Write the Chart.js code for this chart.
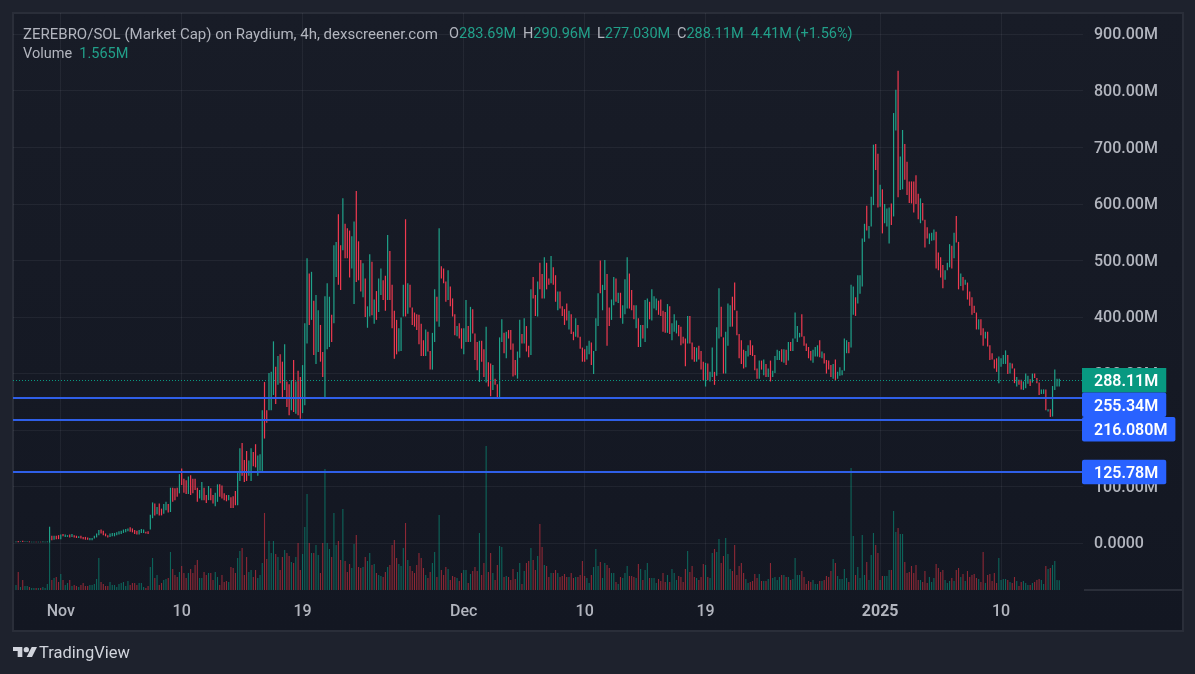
<!DOCTYPE html>
<html>
<head>
<meta charset="utf-8">
<title>ZEREBRO/SOL</title>
<script src="https://cdn.jsdelivr.net/npm/chart.js@4"></script>
<style>
html, body { margin: 0; padding: 0; width: 1195px; height: 674px; overflow: hidden; background: #1e222d; }
body { position: relative; font-family: Roboto, sans-serif; }
#pane { position: absolute; left: 12px; top: 12px; width: 1168px; height: 616px; border: 2px solid #2a2e39; background: linear-gradient(#181c27, #131722); }
#axisLine { position: absolute; left: 1084px; top: 589px; width: 98px; height: 2px; background: #2a2e39; }
canvas { position: absolute; left: 0; top: 0; }
.legend { position: absolute; font-size: 14.5px; line-height: 20px; color: #b2b5be; white-space: pre; }
.legend b { font-weight: 400; color: #22a08a; }
#logo { position: absolute; left: 13px; top: 646px; }
#brand { position: absolute; left: 39px; top: 643px; font-size: 16.5px; line-height: 20px; color: #d1d4dc; }
</style>
</head>
<body>
<div id="pane"></div>
<div id="axisLine"></div>
<canvas id="chart" width="1195" height="674"></canvas>
<div class="legend" style="left:23px;top:24px;font-size:15px">ZEREBRO/SOL (Market Cap) on Raydium, 4h, dexscreener.com</div>
<div class="legend" style="left:449px;top:24px">O<b>283.69M</b></div>
<div class="legend" style="left:523px;top:24px">H<b>290.96M</b></div>
<div class="legend" style="left:597px;top:24px">L<b>277.030M</b></div>
<div class="legend" style="left:677px;top:24px">C<b>288.11M</b></div>
<div class="legend" style="left:751px;top:24px"><b>4.41M (+1.56%)</b></div>
<div class="legend" style="left:23px;top:44px">Volume  <b>1.565M</b></div>
<svg id="logo" width="24" height="12" viewBox="0 6 36 15" fill="#d1d4dc"><path d="M14 6H0v6h7v9h7V6Z"/><circle cx="20" cy="10" r="4"/><path d="M28 6h8l-7.5 15H20.5L28 6Z"/></svg>
<div id="brand">TradingView</div>
<script>
// 4h bars, market cap in millions. First bar is Oct 28 16:00
const lows = [
  1.5,1.5,2,2,2,2,1.5,1.5,1.5,1.5,1.5,1.5,1.5,1.5,1.5,0.5,5,6,7,7,
  7,12,11,11,10,11,10,9,9,8,7,6,6,5,5,8,10,14,17,14,
  12,10,11,12,12,14,15,16,18,19,21,20,19,16,15,15,18,18,17,16,
  24,44,49,51,49,49,52,58,54,55,73,76,82,88,103,89,87,87,85,88,
  94,73,79,76,76,71,76,76,70,65,73,82,79,76,74,76,62,62,67,67,
  110,119,108,110,119,110,136,134,119,128,125,185,213,235,235,262,246,280,283,256,
  271,241,226,235,232,229,226,220,230,244,353,386,395,333,317,338,321,294,256,343,
  347,356,389,471,457,448,518,504,504,470,486,423,462,465,445,435,400,381,401,403,
  388,395,409,439,430,411,430,430,380,326,334,339,340,401,401,406,417,386,383,377,
  352,331,331,331,339,307,307,356,392,383,468,460,427,430,419,401,368,366,362,344,
  334,356,356,356,371,324,306,285,321,294,284,277,260,271,280,256,256,356,336,327,
  362,342,295,297,291,328,353,353,339,329,333,433,402,401,449,433,433,449,457,460,
  457,427,412,415,402,386,394,378,370,359,365,364,344,321,321,325,334,315,299,340,
  384,442,412,448,349,384,395,421,427,425,398,388,405,415,415,412,396,380,347,347,
  362,356,380,396,394,415,412,404,402,374,372,372,370,359,374,371,366,350,353,313,
  353,353,325,321,321,325,307,288,277,288,286,294,280,296,362,365,300,300,349,383,
  383,412,368,327,317,309,311,330,333,331,306,291,291,307,297,294,294,286,294,301,
  324,324,321,319,315,323,340,340,362,356,364,365,349,340,327,323,319,330,330,329,
  327,318,300,307,294,291,287,291,296,297,305,336,336,346,404,402,424,441,454,533,
  553,539,560,598,660,594,595,548,566,560,530,563,578,730,612,625,626,643,616,602,
  601,585,600,573,566,571,523,539,529,535,536,486,483,470,451,466,483,488,486,504,
  532,449,455,447,457,431,420,404,407,378,378,368,349,362,348,324,325,309,303,283,
  312,317,317,299,300,309,283,277,280,272,271,274,282,278,284,292,283,262,264,264,
  235,233,223,224,271,277,277.03
];
const highs = [
  3,3.5,3,4,3,3,3,2.5,2.5,2.5,2.5,2.5,3,2.5,3,29,13,13,13,14,
  15,16,15,14,15,16,14,13,12,13,11,11,10,9,9,13,17,23,24,22,
  17,14,17,18,18,19,21,22,24,25,26,28,26,23,22,23,25,24,20,21,
  50,72,70,64,70,61,69,73,69,98,98,97,98,122,132,114,111,118,120,114,
  114,98,94,108,98,85,101,97,85,89,104,104,102,88,85,85,81,83,92,126,
  168,177,147,163,146,168,161,175,155,157,235,285,235,301,303,357,312,331,334,321,
  352,286,281,288,324,286,305,294,315,389,504,477,480,429,439,412,386,338,437,460,
  436,404,527,533,582,527,610,565,557,553,543,569,623,534,501,495,468,419,511,498,
  431,446,468,486,465,473,545,517,457,411,395,380,399,457,573,460,457,417,408,405,
  404,388,359,378,374,340,372,449,436,557,490,486,463,483,454,433,405,384,389,380,
  380,430,384,418,414,371,356,358,358,343,383,320,318,315,291,281,364,396,372,374,
  377,377,353,324,339,395,370,398,384,349,449,471,439,463,496,476,506,496,468,508,
  488,474,445,445,419,414,424,411,405,374,398,386,365,346,343,349,358,355,340,398,
  442,500,457,501,476,417,431,471,468,443,443,421,467,506,477,448,421,421,398,386,
  386,430,433,427,449,437,433,429,431,411,409,423,419,389,405,394,386,383,365,362,
  402,402,355,347,346,349,340,321,319,318,303,346,303,382,451,418,364,374,424,421,
  436,461,411,370,359,342,340,350,359,350,333,309,323,323,325,317,309,323,305,331,
  342,340,343,343,342,356,356,362,408,384,372,405,366,353,347,340,342,347,350,359,
  339,336,324,323,315,317,325,303,311,306,362,359,356,457,454,435,474,474,539,565,
  597,561,613,705,706,689,634,626,600,592,594,601,761,802,836,684,731,706,675,640,
  640,640,651,618,610,602,572,559,548,549,555,551,514,506,492,483,496,529,526,549,
  579,533,477,471,466,461,445,435,420,408,396,396,380,374,374,350,336,325,327,330,
  327,333,341,333,319,318,309,294,289,289,286,300,296,290,300,300,292,284,272,272,
  272,237,237,278,307,291,290.96
];
// 1 = closed up (green), 0 = closed down (red)
const rising = [
  1,0,1,0,1,1,0,1,1,0,1,0,1,1,1,1,0,1,0,0,
  1,0,1,1,0,1,0,0,1,0,0,0,0,1,1,1,1,1,0,0,
  0,0,1,1,1,1,1,1,1,1,1,0,0,0,0,1,1,1,0,0,
  1,1,0,1,0,0,1,1,0,1,0,0,0,1,0,0,0,1,0,0,
  0,0,1,1,0,0,1,0,0,1,1,0,0,0,0,1,0,0,0,1,
  1,0,0,0,1,1,0,0,1,1,1,0,0,1,1,1,0,1,0,0,
  1,0,0,1,0,1,0,0,1,1,1,0,1,0,1,1,0,0,1,1,
  1,0,1,1,0,0,1,0,0,0,1,1,0,0,0,1,0,1,1,0,
  1,0,1,1,0,0,1,0,0,0,0,1,1,1,0,1,0,0,0,0,
  0,0,0,1,0,0,1,1,0,1,0,0,0,1,0,0,0,1,0,0,
  1,1,0,1,0,0,0,1,0,0,1,0,0,1,0,0,1,1,0,1,
  0,0,0,0,1,1,0,1,0,0,1,0,0,1,0,0,1,0,0,1,
  0,0,1,0,0,0,0,1,0,0,1,0,0,0,0,1,1,0,1,1,
  1,0,1,1,0,0,1,1,0,1,0,1,1,1,0,0,0,1,0,1,
  0,1,1,0,1,1,1,0,0,0,0,1,0,1,1,1,0,0,0,0,
  1,0,0,0,1,0,0,0,1,0,1,1,0,1,1,0,0,1,1,1,
  0,0,0,0,0,0,1,1,0,0,0,0,1,0,1,0,1,0,1,1,
  1,1,0,1,0,1,0,1,1,1,1,0,0,0,0,0,1,1,1,0,
  1,0,0,0,0,1,0,1,1,1,1,1,0,1,1,0,1,1,1,1,
  0,1,1,1,0,0,1,0,1,1,1,0,1,1,0,1,1,0,0,0,
  0,0,0,0,1,0,0,0,1,1,1,0,0,0,0,1,1,1,0,1,
  0,0,1,0,1,0,0,0,0,0,1,0,0,1,0,0,0,0,0,1,
  1,1,1,0,1,0,0,1,0,0,1,1,1,0,1,0,0,0,1,1,
  0,1,0,1,1,1,1
];
// volume in units of 160k (last bar = 1.565M)
const volumes = [
  5,18,3,10,4,4,3,2,2,2,2,2,3,2,6,47,10,12,13,8,
  16,10,5,7,10,4,5,4,3,5,7,4,4,5,5,6,11,32,8,6,
  4,4,8,5,5,3,6,7,8,4,9,5,7,7,5,7,7,3,2,4,
  23,32,12,15,5,7,10,11,12,38,21,15,13,18,24,17,12,17,21,17,
  25,30,12,12,18,15,17,17,10,18,13,5,15,8,9,8,23,22,17,32,
  39,42,15,33,18,20,13,20,12,15,27,77,31,49,37,49,36,33,20,33,
  40,37,34,28,27,33,47,20,36,63,96,47,37,37,45,35,17,47,121,47,
  41,33,77,45,49,30,81,29,18,26,22,46,55,23,22,23,33,29,37,25,
  26,17,15,14,13,18,23,25,45,50,32,26,24,42,67,30,24,19,17,25,
  37,32,22,15,12,18,27,38,13,75,20,15,23,21,10,14,13,12,9,17,
  20,20,7,16,19,23,19,57,15,27,144,18,37,17,10,25,44,43,13,14,
  13,10,21,11,18,27,6,19,27,29,42,30,20,34,66,43,25,24,13,17,
  17,20,17,13,14,16,13,13,17,12,13,13,15,29,14,12,7,15,23,41,
  24,28,12,27,25,22,17,17,8,6,13,12,17,24,14,14,13,12,26,21,
  10,20,27,12,12,12,7,11,9,17,8,15,8,21,17,10,14,13,8,21,
  39,18,24,13,12,10,13,26,25,13,12,37,41,38,51,27,34,52,36,21,
  19,45,15,24,27,17,11,7,8,9,16,12,16,9,9,9,11,27,12,13,
  10,13,15,15,13,13,10,11,32,15,15,19,13,6,9,8,10,6,6,9,
  9,10,14,13,19,31,27,14,11,11,21,12,8,122,54,15,23,12,55,15,
  28,10,35,57,45,37,10,14,14,14,20,20,79,58,62,56,56,28,17,18,
  24,17,25,10,10,8,19,7,13,8,12,26,22,18,20,10,7,9,12,9,
  20,22,13,16,9,19,13,15,16,12,11,8,38,7,15,16,9,17,7,32,
  10,11,11,10,8,7,13,9,4,8,9,7,5,5,7,8,10,11,10,6,
  24,21,22,25,29,10,9.8
];

// bar number of each date label
const tickBars = [20, 74, 128, 200, 254, 308, 386, 440];
const tickLabels = ['Nov', '10', '19', 'Dec', '10', '19', '2025', '10'];

// price lines: last close, then the three drawn levels
const lastClose = 288.11;
const levels = [255.34, 216.08, 125.78];
const levelLabels = ['255.34M', '216.080M', '125.78M'];

const UP = '#1fa38a';
const DOWN = '#f03a50';
const TAG_FONT = '600 16px Roboto';

const priceLines = {
    id: 'priceLines',
    afterDatasetsDraw(chart) {
        const { ctx, chartArea: a, scales: { y } } = chart;
        ctx.save();
        const closeY = Math.round(y.getPixelForValue(lastClose)) + 0.5;
        ctx.strokeStyle = '#089981';
        ctx.lineWidth = 1;
        ctx.setLineDash([1, 2]);
        ctx.beginPath();
        ctx.moveTo(a.left, closeY);
        ctx.lineTo(a.right, closeY);
        ctx.stroke();
        ctx.setLineDash([]);
        ctx.strokeStyle = '#2f5fe8';
        ctx.lineWidth = 2;
        levels.forEach(v => {
            const py = Math.floor(y.getPixelForValue(v));
            ctx.beginPath();
            ctx.moveTo(a.left, py);
            ctx.lineTo(a.right, py);
            ctx.stroke();
        });
        ctx.restore();
    },
    afterDraw(chart) {
        const { ctx, chartArea: a, scales: { y } } = chart;
        const tags = [{ v: lastClose, text: '288.11M', color: '#089981' }];
        levels.forEach((v, i) => tags.push({ v, text: levelLabels[i], color: '#2962ff' }));
        const h = 24.5;
        let bottom = 0;
        ctx.save();
        ctx.font = TAG_FONT;
        ctx.textBaseline = 'middle';
        tags.forEach(t => {
            // stack the tags when their prices are too close
            let cy = y.getPixelForValue(t.v);
            if (cy - h / 2 < bottom) cy = bottom + h / 2;
            bottom = cy + h / 2;
            const w = ctx.measureText(t.text).width + 20;
            ctx.fillStyle = t.color;
            ctx.beginPath();
            ctx.roundRect(a.right - 1, cy - h / 2, w, h, t.color === '#089981' ? 0 : 2);
            ctx.fill();
            ctx.fillStyle = '#ffffff';
            ctx.fillText(t.text, a.right + 11, cy + 2);
        });
        ctx.restore();
    }
};

new Chart(document.getElementById('chart'), {
    type: 'bar',
    data: {
        datasets: [
            {
                label: 'Volume',
                yAxisID: 'yVol',
                order: 2,
                data: volumes.map((v, i) => ({ x: i, y: v })),
                backgroundColor: rising.map(r => r ? 'rgba(8,153,129,0.6)' : 'rgba(242,54,69,0.55)'),
                barThickness: 1.1
            },
            {
                label: 'Market Cap',
                yAxisID: 'y',
                order: 1,
                data: lows.map((l, i) => ({ x: i, y: [l, highs[i]] })),
                backgroundColor: rising.map(r => r ? UP : DOWN),
                barThickness: 1.2
            }
        ]
    },
    plugins: [priceLines],
    options: {
        responsive: false,
        animation: false,
        devicePixelRatio: 1,
        layout: { padding: { left: 13, top: 13, right: 13, bottom: 44 } },
        plugins: { legend: { display: false }, tooltip: { enabled: false } },
        datasets: { bar: { grouped: false, borderWidth: 0, inflateAmount: 0 } },
        scales: {
            x: {
                type: 'linear',
                offset: false,
                min: -1.34,
                max: 476.6,
                afterBuildTicks: axis => { axis.ticks = tickBars.map(v => ({ value: v })); },
                afterFit: axis => { axis.height = 40; axis.paddingLeft = 0; axis.paddingRight = 0; },
                border: { display: false },
                grid: { offset: false, color: 'rgba(240,243,250,0.06)', drawTicks: false },
                ticks: {
                    autoSkip: false,
                    maxRotation: 0,
                    padding: 12,
                    color: '#b2b5be',
                    font: ctx => ({ family: 'Roboto', size: 16, weight: ctx.index === 6 ? 700 : 500 }),
                    callback: (v, i) => tickLabels[i]
                }
            },
            y: {
                position: 'right',
                min: -83,
                max: 938,
                afterFit: axis => { axis.width = 99; axis.paddingTop = 0; axis.paddingBottom = 0; },
                border: { display: false },
                grid: { color: 'rgba(240,243,250,0.06)', drawTicks: false },
                ticks: {
                    stepSize: 100,
                    includeBounds: false,
                    autoSkip: false,
                    padding: 11,
                    labelOffset: 1,
                    color: '#b2b5be',
                    font: { family: 'Roboto', size: 16, weight: 500 },
                    callback: v => v === 0 ? '0.0000' : v.toFixed(2) + 'M'
                }
            },
            yVol: { display: false, min: 0, max: 577 }
        }
    }
});
</script>
</body>
</html>
